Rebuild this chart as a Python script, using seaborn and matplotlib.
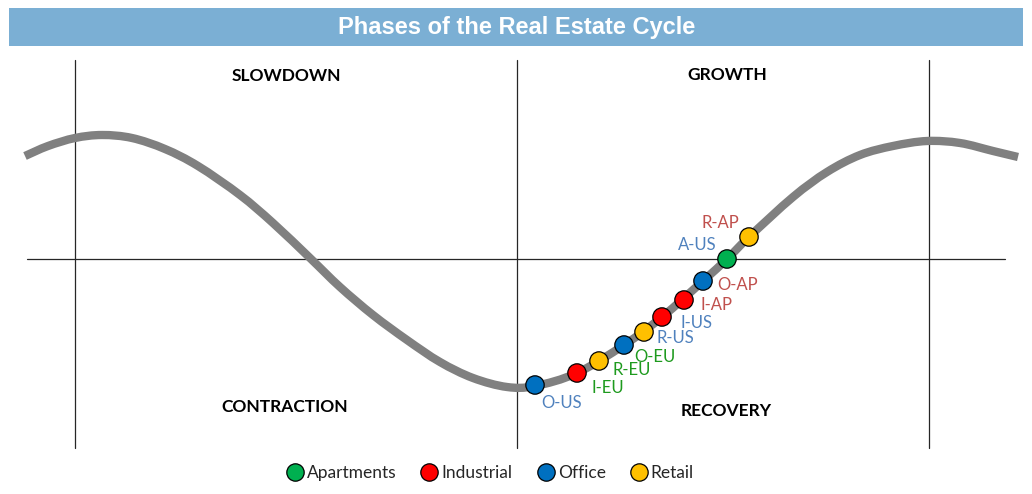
import matplotlib
matplotlib.use("Agg")
import matplotlib.pyplot as plt
from matplotlib.patches import Rectangle, PathPatch
from matplotlib.path import Path
from matplotlib.lines import Line2D
import seaborn as sns
import pandas as pd

sns.set_theme(style="white")
plt.rcParams['font.family'] = ['Lato', 'DejaVu Sans']

# ---------------- data ----------------
TITLE = "Phases of the Real Estate Cycle"
# cycle curve (x = position in cycle, y = market level, 0 = mid line)
curve_x = [25, 48, 75, 102, 132, 165, 198, 240, 273, 310, 340, 373, 407, 440, 473,
           507, 535, 577, 624, 662, 703, 727, 749, 793, 827, 860, 893, 927, 960, 993, 1018]
curve_y = [103, 113, 121, 124, 121, 110, 93, 64, 36, 1, -28, -56, -81, -103, -119,
           -128, -127, -114, -86, -58, -22, 0, 22, 62, 87, 104, 113, 118, 116, 108, 102]

# markets positioned on the cycle
pt_labels = ["O-US", "I-EU", "R-EU", "O-EU", "R-US", "I-US", "I-AP", "O-AP", "A-US", "R-AP"]
pt_sector = ["Office", "Industrial", "Retail", "Office", "Retail", "Industrial",
             "Industrial", "Office", "Apartments", "Retail"]
pt_region = ["US", "EU", "EU", "EU", "US", "US", "AP", "AP", "US", "AP"]
pt_x = [535, 577, 599, 624, 644, 662, 684, 703, 727, 749]
pt_y = [-126, -114, -102, -86, -73, -58, -41, -22, 0, 22]

phases = ["SLOWDOWN", "GROWTH", "CONTRACTION", "RECOVERY"]
sectors = ["Apartments", "Industrial", "Office", "Retail"]
sector_colors = {"Apartments": "#00B050", "Industrial": "#FF0000",
                 "Office": "#0070C0", "Retail": "#FFC000"}
region_colors = {"US": "#4F81BD", "EU": "#1E9A1E", "AP": "#C0504D"}

# ---------------- figure ----------------
W, H = 1032, 494
MID = 259  # pixel row of the mid line
fig = plt.figure(figsize=(W / 100, H / 100), dpi=100)
ax = fig.add_axes([0, 0, 1, 1])
ax.set_xlim(0, W)
ax.set_ylim(MID - H, MID)
ax.axis("off")

# title bar
fig.patches.append(Rectangle((9 / W, 1 - 46 / H), 1014 / W, 38 / H,
                             transform=fig.transFigure, facecolor="#7BAFD4",
                             edgecolor="none", zorder=0))
fig.text(517 / W, 1 - 27.5 / H, TITLE, ha="center", va="center", color="white",
         fontsize=17, fontweight="bold", family=["Liberation Sans", "DejaVu Sans"])

# quadrant lines
line_kw = dict(color="#262626", lw=0.9, zorder=1)
for vx in (75, 517, 929):
    ax.plot([vx, vx], [MID - 60, MID - 448], **line_kw)
ax.plot([27, 1005], [0, 0], **line_kw)

# phase labels
phase_pos = [(286, 76), (727, 75), (285, 407), (726, 411)]
for name, (px, py) in zip(phases, phase_pos):
    ax.text(px, MID - py, name, ha="center", va="center", fontsize=12.5,
            fontweight="bold", color="black")

# curve: smoothed line through the read points (like a spreadsheet "smoothed line")
pts = list(zip(curve_x, curve_y))
verts = [pts[0]]
codes = [Path.MOVETO]
n = len(pts)
for i in range(n - 1):
    p0 = pts[i - 1] if i > 0 else pts[i]
    p1 = pts[i]
    p2 = pts[i + 1]
    p3 = pts[i + 2] if i + 2 < n else pts[i + 1]
    c1 = (p1[0] + (p2[0] - p0[0]) / 6, p1[1] + (p2[1] - p0[1]) / 6)
    c2 = (p2[0] - (p3[0] - p1[0]) / 6, p2[1] - (p3[1] - p1[1]) / 6)
    verts += [c1, c2, p2]
    codes += [Path.CURVE4] * 3
ax.add_patch(PathPatch(Path(verts, codes), facecolor="none", edgecolor="#808080",
                       lw=6, capstyle="butt", joinstyle="round", zorder=2))

# points
pdf = pd.DataFrame({"x": pt_x, "y": pt_y, "sector": pt_sector})
sns.scatterplot(data=pdf, x="x", y="y", hue="sector", hue_order=sectors,
                palette=sector_colors, s=175, edgecolor="black", linewidth=0.9,
                ax=ax, zorder=3, legend=False)

# point labels
offsets = [(27, 18), (31, 15), (33, 9), (31, 12), (31, 6), (34, 6), (32, 5), (35, 4),
           (-30, -14), (-29, -14)]
for lab, reg, x, y, (dx, dy) in zip(pt_labels, pt_region, pt_x, pt_y, offsets):
    ax.text(x + dx, y - dy, lab, ha="center", va="center", fontsize=12,
            color=region_colors[reg])

ax.set_xlabel("")
ax.set_ylabel("")

# legend
handles = [Line2D([0], [0], marker="o", linestyle="none", markersize=12.5,
                  markerfacecolor=sector_colors[s], markeredgecolor="black",
                  markeredgewidth=0.9, label=s) for s in sectors]
ax.legend(handles=handles, loc="center", bbox_to_anchor=(490 / W, 1 - 473 / H),
          ncol=4, frameon=False, fontsize=12.5, handletextpad=0.2,
          columnspacing=1.4, handlelength=1.0, borderpad=0)

fig.savefig("out.png", dpi=100)
